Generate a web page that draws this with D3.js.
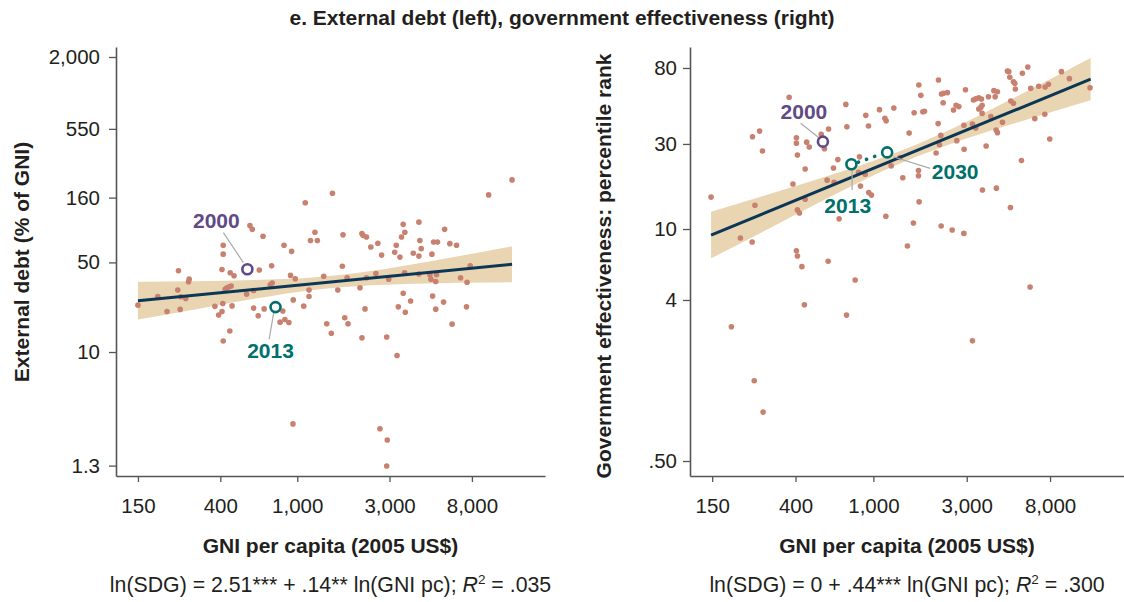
<!DOCTYPE html>
<html><head><meta charset="utf-8">
<script src="https://cdn.jsdelivr.net/npm/d3@7"></script>
<style>
body{margin:0;background:#fff;}
svg text{font-family:"Liberation Sans",Arial,Helvetica,sans-serif;}
</style></head><body>
<svg id="c" width="1124" height="602"></svg>
<script>
// ---------- data ----------
const gniTicks = [150, 400, 1000, 3000, 8000];
const gniTickLabels = ["150", "400", "1,000", "3,000", "8,000"];
const debtTicks = [1.3, 10, 50, 160, 550, 2000];
const debtTickLabels = ["1.3", "10", "50", "160", "550", "2,000"];
const effTicks = [0.5, 4, 10, 30, 80];
const effTickLabels = [".50", "4", "10", "30", "80"];

const debtPoints = [[12900,220],[9760,168],[1520,173],[1100,146],[569,97],[585,90.5],[665,80],[1234,86],[1724,82],[2160,84],[2190,81],[2280,79],[3530,99],[4255,103],[3600,86],[3460,79],[5780,90.5],[1170,74],[1270,74],[2400,66],[2610,70.5],[2730,57],[3250,68],[3190,60],[3395,55],[4306,74],[4375,64],[3980,59],[4255,56],[5070,72],[5310,72],[4970,58],[6150,70],[6660,68],[7840,47],[6990,38],[7550,35],[7500,22.5],[6320,16.5],[5710,24.5],[5200,21.6],[5010,27.3],[5250,40],[4850,40],[4910,37],[5200,35.5],[4255,40.6],[3590,41.5],[2970,37],[2550,41],[2280,38],[2110,31.7],[2240,21.7],[3530,28.7],[3855,25],[3330,22.5],[3620,20.4],[2900,13.1],[2160,12.9],[3280,9.4],[2676,2.52],[2920,2.06],[2900,1.29],[950,2.75],[1830,16.6],[1760,18.5],[1500,14],[1420,16.6],[1620,30.4],[1810,38],[1710,46.6],[1370,39],[1150,30.4],[1150,27.1],[1080,22.8],[953,25.5],[976,37.3],[923,39.6],[935,61],[854,68],[842,20.9],[863,17.9],[815,17.1],[905,17],[674,21.7],[628,19.2],[595,22],[595,30.2],[737,47],[636,43.6],[725,33.5],[742,34.5],[547,28.3],[414,68],[414,58],[408,44],[450,41.5],[471,39.3],[424,30.8],[433,31.7],[445,32.3],[455,32.7],[412,23.9],[408,20.7],[392,19.4],[375,22.7],[460,22.9],[448,14.6],[414,12.2],[243,43],[276,37],[274,35.3],[241,30.4],[250,27],[265,26.2],[248,21.5],[212,20.7],[190,27.1],[150,23.2]];

const effPoints = [[148,15.1],[209,8.9],[241,32.9],[262,35.4],[271,27.4],[248,13.6],[371,54.8],[404,32.5],[404,30.3],[456,30.7],[470,28.8],[541,34],[590,36.4],[562,28.2],[409,26],[448,21.7],[388,17.9],[448,14.7],[409,12.8],[419,12.3],[658,24.5],[625,22],[580,18.8],[630,18.3],[668,11.4],[723,50],[732,37.4],[849,25.4],[839,20.8],[859,17.4],[908,20.3],[947,16],[978,15.5],[914,43.4],[944,37.8],[1074,46.7],[1145,41.8],[1162,40.5],[1272,47.7],[1158,11.8],[1370,25.2],[1233,22.6],[1414,19.4],[1523,34.5],[1700,21.3],[1700,19.9],[1713,14.2],[1602,10.8],[1615,44.9],[1790,45.5],[1824,45.8],[1707,64.2],[1748,56.2],[2151,68.5],[2229,57.2],[2282,57.7],[2391,58.2],[2273,51.1],[2143,39],[2212,33.5],[2176,29.7],[2092,26.7],[2220,10.4],[2527,9.87],[2901,9.45],[2567,46.5],[2648,49.4],[2733,48.6],[2956,60.4],[2670,31.3],[2909,28],[2901,38.2],[3247,52.9],[3337,53.8],[3457,54.4],[3568,53.6],[3540,48.1],[3457,47.1],[3596,49.4],[3873,55.2],[4129,59.7],[4306,58.9],[4192,55.2],[3209,38.8],[3337,36.9],[3596,44.5],[3984,42.7],[4568,39.7],[4240,35.9],[4306,34.7],[3770,29.2],[3610,16.55],[4253,16.95],[5017,13.2],[4844,77],[4920,76.3],[4979,71],[5199,67],[5284,65.6],[5319,61],[5039,52.2],[5199,50.7],[5775,74.7],[6158,81.1],[6375,61.5],[7002,63.2],[7548,62.5],[7846,64.8],[6685,41.6],[7520,44],[7971,32],[5713,24.2],[9146,76.3],[10044,69.7],[12810,62],[240,8.46],[404,7.56],[409,7.06],[431,6.15],[587,6.59],[807,5.18],[444,3.76],[729,3.29],[188,2.83],[246,1.41],[273,0.94],[1493,8.03],[6324,4.73],[3209,2.36]];

// fitted line end points and confidence band [gni, lower, upper]
const debtFit = [[150, 25.1], [12900, 48.3]];
const debtBand = [[150,17.9,35.3],[300,21.6,35.7],[600,26.0,36.4],[1200,30.5,38.1],[2400,33.2,42.8],[4800,34.3,50.9],[9600,34.8,61.4],[12900,35.0,66.7]];
const effFit = [[148, 9.25], [12900, 69.3]];
const effBand = [[148,6.85,12.5],[300,10.2,15.8],[600,15.1,20.0],[1200,21.9,25.9],[2400,29.6,35.6],[4800,37.9,51.9],[9600,47.9,76.8],[12900,52.8,90.9]];

const debtMarks = [{year:"2000", gni:552, v:44.2}, {year:"2013", gni:772, v:22.4}];
const effMarks = [{year:"2000", gni:552, v:30.9}, {year:"2013", gni:772, v:23.1}, {year:"2030", gni:1176, v:26.9}];

const titleText = "e. External debt (left), government effectiveness (right)";
const xTitle = "GNI per capita (2005 US$)";

// ---------- style ----------
const C = {dot:"#c8806f", band:"#e9d5b1", line:"#0b3656", axis:"#555", text:"#231f20",
           purple:"#5f4a87", teal:"#00706c", leader:"#aaaaaa"};
const svg = d3.select("#c");

svg.append("text").attr("x", 562).attr("y", 25).attr("text-anchor","middle")
  .attr("font-size", 21).attr("font-weight","bold").attr("fill", C.text).text(titleText);

function panel(o){
  const x = d3.scaleLog().domain([115.5, 19100]).range(o.xr);
  const y = d3.scaleLog().domain(o.yd).range([476, 47]);
  const g = svg.append("g");

  // band
  g.append("path").datum(o.band)
    .attr("d", d3.area().x(d=>x(d[0])).y0(d=>y(d[1])).y1(d=>y(d[2])).curve(d3.curveMonotoneX))
    .attr("fill", C.band);

  // dots
  g.selectAll("circle.pt").data(o.points).join("circle").attr("class","pt")
    .attr("cx", d=>x(d[0])).attr("cy", d=>y(d[1])).attr("r", 2.8).attr("fill", C.dot);

  // fit line
  g.append("path").datum(o.fit)
    .attr("d", d3.line().x(d=>x(d[0])).y(d=>y(d[1])))
    .attr("stroke", C.line).attr("stroke-width", 3).attr("fill","none");

  // axes
  const ax = g.append("g").attr("transform", `translate(0,476)`)
    .call(d3.axisBottom(x).tickValues(gniTicks).tickFormat((d,i)=>gniTickLabels[i])
      .tickSize(6).tickPadding(16).tickSizeOuter(0));
  const ay = g.append("g").attr("transform", `translate(${o.xr[0]},0)`)
    .call(d3.axisLeft(y).tickValues(o.ticks).tickFormat((d,i)=>o.tickLabels[i])
      .tickSize(7).tickPadding(o.pad).tickSizeOuter(0));
  [ax, ay].forEach(a=>{
    a.select(".domain").attr("stroke", C.axis).attr("stroke-width", 1.6);
    a.selectAll(".tick line").attr("stroke", C.axis).attr("stroke-width", 1.3);
    a.selectAll(".tick text").attr("font-size", 20.5).attr("fill", C.text)
      .attr("font-family", '"Liberation Sans",Arial,sans-serif');
  });

  // highlight marks
  const m = o.marks.map(d=>({...d, px:x(d.gni), py:y(d.v)}));
  if (o.connect) {
    const a = m.find(d=>d.year===o.connect[0]), b = m.find(d=>d.year===o.connect[1]);
    g.append("line").attr("x1", a.px+7).attr("y1", a.py-2).attr("x2", b.px-7).attr("y2", b.py+2)
      .attr("stroke", C.teal).attr("stroke-width", 3.6).attr("stroke-linecap","round")
      .attr("stroke-dasharray","0.1 8.5");
  }
  m.forEach(d=>{
    const lay = o.layout[d.year];
    const col = d.year==="2000" ? C.purple : C.teal;
    g.append("line").attr("x1", d.px+lay.l[0]).attr("y1", d.py+lay.l[1])
      .attr("x2", d.px+lay.l[2]).attr("y2", d.py+lay.l[3])
      .attr("stroke", C.leader).attr("stroke-width", 1.2);
    g.append("circle").attr("cx", d.px).attr("cy", d.py).attr("r", 5)
      .attr("fill","none").attr("stroke", col).attr("stroke-width", 2.6);
    g.append("text").attr("x", d.px+lay.t[0]).attr("y", d.py+lay.t[1])
      .attr("text-anchor","middle").attr("font-size", 21).attr("font-weight","bold")
      .attr("fill", col).text(d.year);
  });

  // axis titles
  const cx = (o.xr[0]+o.xr[1])/2;
  svg.append("text").attr("x", cx).attr("y", 553).attr("text-anchor","middle")
    .attr("font-size", 21).attr("font-weight","bold").attr("fill", C.text).text(xTitle);
  svg.append("text").attr("transform", `translate(${o.ylx},${o.yly}) rotate(-90)`)
    .attr("text-anchor","middle").attr("font-size", 21).attr("font-weight","bold")
    .attr("fill", C.text).text(o.ylabel);

  // regression formula
  const f = svg.append("text").attr("x", cx).attr("y", 592).attr("text-anchor","middle")
    .attr("font-size", 21.3).attr("fill", C.text);
  f.append("tspan").text(o.formula[0]);
  f.append("tspan").attr("font-style","italic").text("R");
  f.append("tspan").attr("dy", -8).attr("font-size", 13.5).text("2");
  f.append("tspan").attr("dy", 8).text(o.formula[1]);
}

panel({xr:[116,545], yd:[1.079, 2393], ticks:debtTicks, tickLabels:debtTickLabels, pad:9,
  points:debtPoints, fit:debtFit, band:debtBand, marks:debtMarks,
  layout:{"2000":{l:[-4,-6.6,-24,-36.6], t:[-31,-41]}, "2013":{l:[-1.7,4.7,-6.4,32.3], t:[-5,50.5]}},
  ylabel:"External debt (% of GNI)", ylx:29, yly:262,
  formula:["ln(SDG) = 2.51*** + .14** ln(GNI pc); ", " = .035"]});

panel({xr:[690,1124], yd:[0.412, 104.9], ticks:effTicks, tickLabels:effTickLabels, pad:6,
  points:effPoints, fit:effFit, band:effBand, marks:effMarks, connect:["2013","2030"],
  layout:{"2000":{l:[-3.3,-3.4,-22.3,-18.4], t:[-19,-22.5]},
          "2013":{l:[0.7,4.7,0.7,25.7], t:[-3.7,49]},
          "2030":{l:[6,4.4,43,16], t:[68,27]}},
  ylabel:"Government effectiveness: percentile rank", ylx:611, yly:266,
  formula:["ln(SDG) = 0 + .44*** ln(GNI pc); ", " = .300"]});
</script>
</body></html>
